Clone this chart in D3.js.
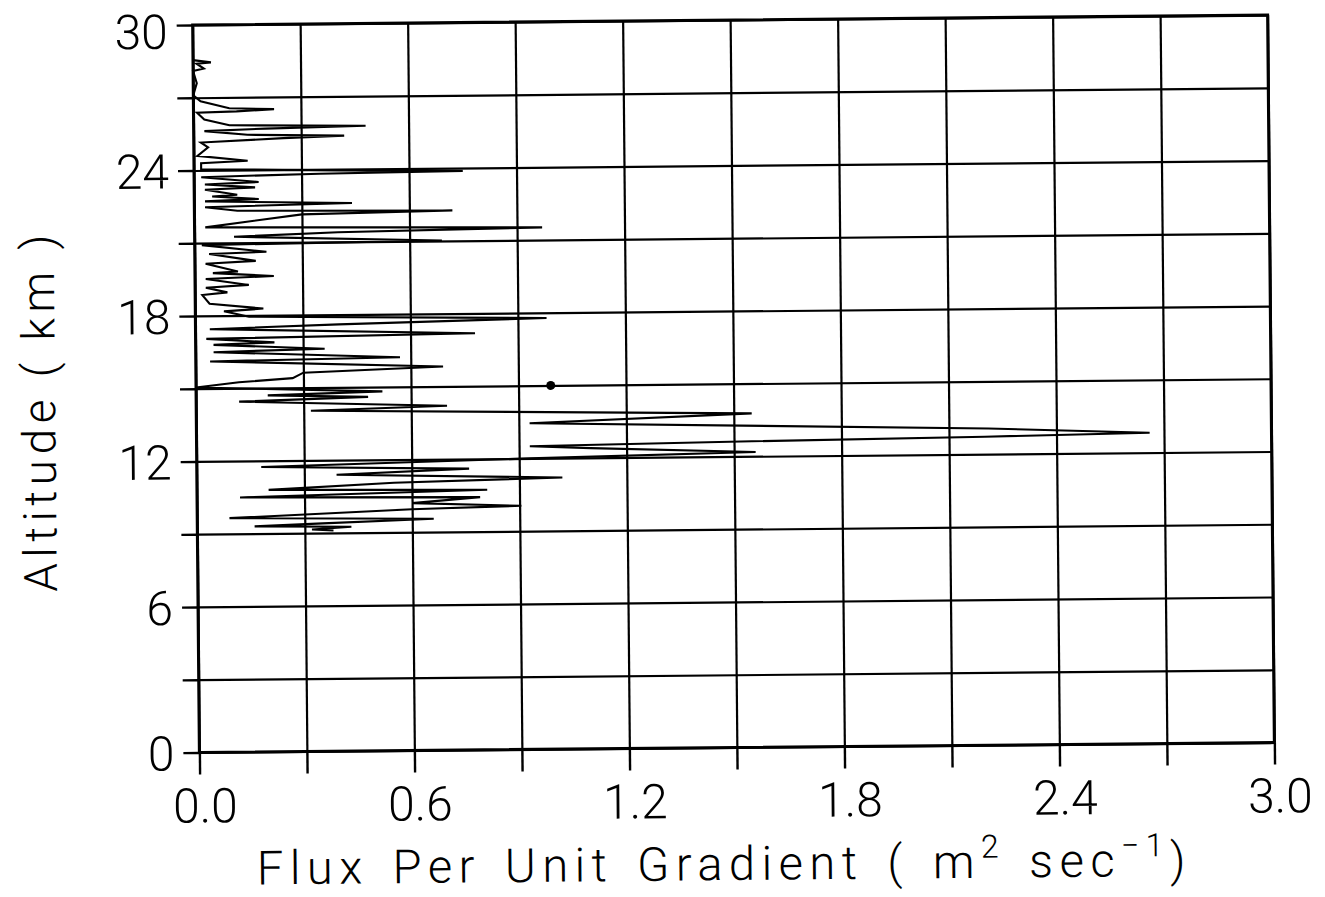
<!DOCTYPE html>
<html>
<head>
<meta charset="utf-8">
<script src="https://cdn.jsdelivr.net/npm/d3@7"></script>
<style>
  html, body { margin: 0; padding: 0; background: #fff; }
  svg { display: block; }
  text { font-family: Roboto, "DejaVu Sans", sans-serif; font-weight: 300; fill: #000; }
</style>
</head>
<body>
<svg width="1325" height="897"></svg>
<script>
// profile, top to bottom (km, m^2/s)
const altitude = [
  28.55, 28.45, 28.40, 28.20, 28.10, 27.60, 27.10, 26.85, 26.55, 26.50,
  26.42, 26.38, 26.10, 25.85, 25.78, 25.70, 25.62, 25.45, 25.38, 25.30,
  25.15, 24.95, 24.60, 24.38, 24.30, 24.05, 23.95, 23.88, 23.82, 23.72,
  23.50, 23.42, 23.28, 23.20, 22.98, 22.92, 22.80, 22.72, 22.60, 22.48,
  22.32, 22.25, 22.15, 21.65, 21.52, 21.40, 21.25, 21.02, 20.92, 20.62,
  20.55, 20.25, 20.15, 19.82, 19.76, 19.62, 19.52, 19.26, 19.16, 18.96,
  18.86, 18.50, 18.28, 18.18, 17.95, 17.78, 17.60, 17.45, 17.18, 17.05,
  16.88, 16.80, 16.60, 16.50, 16.22, 16.12, 15.82, 15.62, 15.40, 15.25,
  15.05, 14.82, 14.70, 14.60, 14.45, 14.20, 14.05, 13.77, 13.45, 13.06,
  12.82, 12.72, 12.62, 12.50, 12.40, 12.18, 12.00, 11.75, 11.60, 11.40,
  11.20, 11.05, 10.80, 10.72, 10.50, 10.42, 10.20, 10.05, 9.95, 9.65,
  9.55, 9.40, 9.30, 9.25, 9.15, 9.10
];
const flux = [
  0.00, 0.05, 0.01, 0.03, 0.00, 0.01, 0.00, 0.02, 0.10, 0.225,
  0.12, 0.01, 0.03, 0.10, 0.48, 0.20, 0.03, 0.15, 0.42, 0.25,
  0.02, 0.04, 0.01, 0.15, 0.02, 0.02, 0.40, 0.75, 0.35, 0.02,
  0.18, 0.03, 0.17, 0.03, 0.12, 0.05, 0.18, 0.03, 0.44, 0.03,
  0.12, 0.72, 0.30, 0.03, 0.97, 0.40, 0.11, 0.69, 0.02, 0.20,
  0.04, 0.17, 0.03, 0.12, 0.05, 0.22, 0.03, 0.15, 0.03, 0.09,
  0.02, 0.04, 0.19, 0.08, 0.15, 0.98, 0.40, 0.04, 0.78, 0.03,
  0.22, 0.05, 0.36, 0.05, 0.57, 0.04, 0.69, 0.30, 0.27, 0.12,
  0.00, 0.52, 0.20, 0.48, 0.12, 0.70, 0.32, 1.55, 0.93, 2.21,
  2.66, 2.20, 1.55, 0.93, 1.10, 1.56, 0.93, 0.18, 0.76, 0.39,
  1.02, 0.55, 0.20, 0.81, 0.12, 0.79, 0.60, 0.905, 0.60, 0.09,
  0.66, 0.35, 0.16, 0.43, 0.32, 0.38
];
const dotFlux = [0.99];
const dotAltitude = [15.0];

const xTicks = [0, 0.3, 0.6, 0.9, 1.2, 1.5, 1.8, 2.1, 2.4, 2.7, 3.0];
const xTickLabels = ["0.0", "", "0.6", "", "1.2", "", "1.8", "", "2.4", "", "3.0"];
const yTicks = [0, 3, 6, 9, 12, 15, 18, 21, 24, 27, 30];
const yTickLabels = ["0", "", "6", "", "12", "", "18", "", "24", "", "30"];

const svg = d3.select("svg");
const x = d3.scaleLinear().domain([0, 3]).range([196, 1271]);
const y = d3.scaleLinear().domain([0, 30]).range([747.5, 20]);
const plotW = x(3) - x(0);
const plotH = y(0) - y(30);

// the scan is tilted a little
const g = svg.append("g").attr("transform", "rotate(-0.53, 733, 384)");

// grid lines
g.append("g")
  .attr("transform", "translate(0," + y(0) + ")")
  .call(d3.axisBottom(x).tickValues(xTicks).tickSize(-plotH).tickFormat(""))
  .call(s => s.select(".domain").remove())
  .selectAll("line").attr("stroke", "#000").attr("stroke-width", 2.2);

g.append("g")
  .attr("transform", "translate(" + x(0) + ",0)")
  .call(d3.axisLeft(y).tickValues(yTicks).tickSize(-plotW).tickFormat(""))
  .call(s => s.select(".domain").remove())
  .selectAll("line").attr("stroke", "#000").attr("stroke-width", 2.2);

// outer ticks and labels
let xAxis = g.append("g")
  .attr("transform", "translate(0," + y(0) + ")")
  .call(d3.axisBottom(x).tickValues(xTicks).tickSize(22).tickPadding(14)
    .tickFormat((d, i) => xTickLabels[i]));
xAxis.select(".domain").remove();
xAxis.selectAll("line").attr("stroke", "#000").attr("stroke-width", 2.4);
xAxis.selectAll("text").attr("font-size", 48).attr("dx", 5)
  .style("font-family", "Roboto, sans-serif");

let yAxis = g.append("g")
  .attr("transform", "translate(" + x(0) + ",0)")
  .call(d3.axisLeft(y).tickValues(yTicks).tickSize(16).tickPadding(9)
    .tickFormat((d, i) => yTickLabels[i]));
yAxis.select(".domain").remove();
yAxis.selectAll("line").attr("stroke", "#000").attr("stroke-width", 2.4);
yAxis.selectAll("text").attr("font-size", 48)
  .attr("dy", d => d === 30 ? "0.48em" : "0.36em")
  .style("font-family", "Roboto, sans-serif");

// frame
g.append("rect")
  .attr("x", x(0)).attr("y", y(30))
  .attr("width", plotW).attr("height", plotH)
  .attr("fill", "none").attr("stroke", "#000").attr("stroke-width", 3);

// the profile
let points = altitude.map((a, i) => [flux[i], a]);
g.append("path")
  .datum(points)
  .attr("fill", "none")
  .attr("stroke", "#000")
  .attr("stroke-width", 2.1)
  .attr("stroke-linejoin", "miter")
  .attr("d", d3.line().x(d => x(d[0])).y(d => y(d[1])));

g.selectAll("circle.dot")
  .data(dotFlux)
  .enter()
  .append("circle")
  .attr("class", "dot")
  .attr("cx", d => x(d))
  .attr("cy", (d, i) => y(dotAltitude[i]))
  .attr("r", 4.5)
  .attr("fill", "#000");

// axis titles
let xt = g.append("text")
  .attr("x", 720).attr("y", 880)
  .attr("text-anchor", "middle")
  .attr("font-size", 47)
  .attr("letter-spacing", 6.5)
  .attr("word-spacing", 6);
xt.append("tspan").text("Flux Per Unit Gradient ( m");
xt.append("tspan").attr("font-size", 32).attr("dy", -20).text("2");
xt.append("tspan").attr("dy", 20).text(" sec");
xt.append("tspan").attr("font-size", 32).attr("dy", -20).attr("dx", 0).text("\u22121");
xt.append("tspan").attr("dy", 20).text(")");

g.append("text")
  .attr("transform", "translate(55,404) rotate(-90)")
  .attr("text-anchor", "middle")
  .attr("font-size", 46)
  .attr("letter-spacing", 5.5)
  .text("Altitude ( km )");
</script>
</body>
</html>
